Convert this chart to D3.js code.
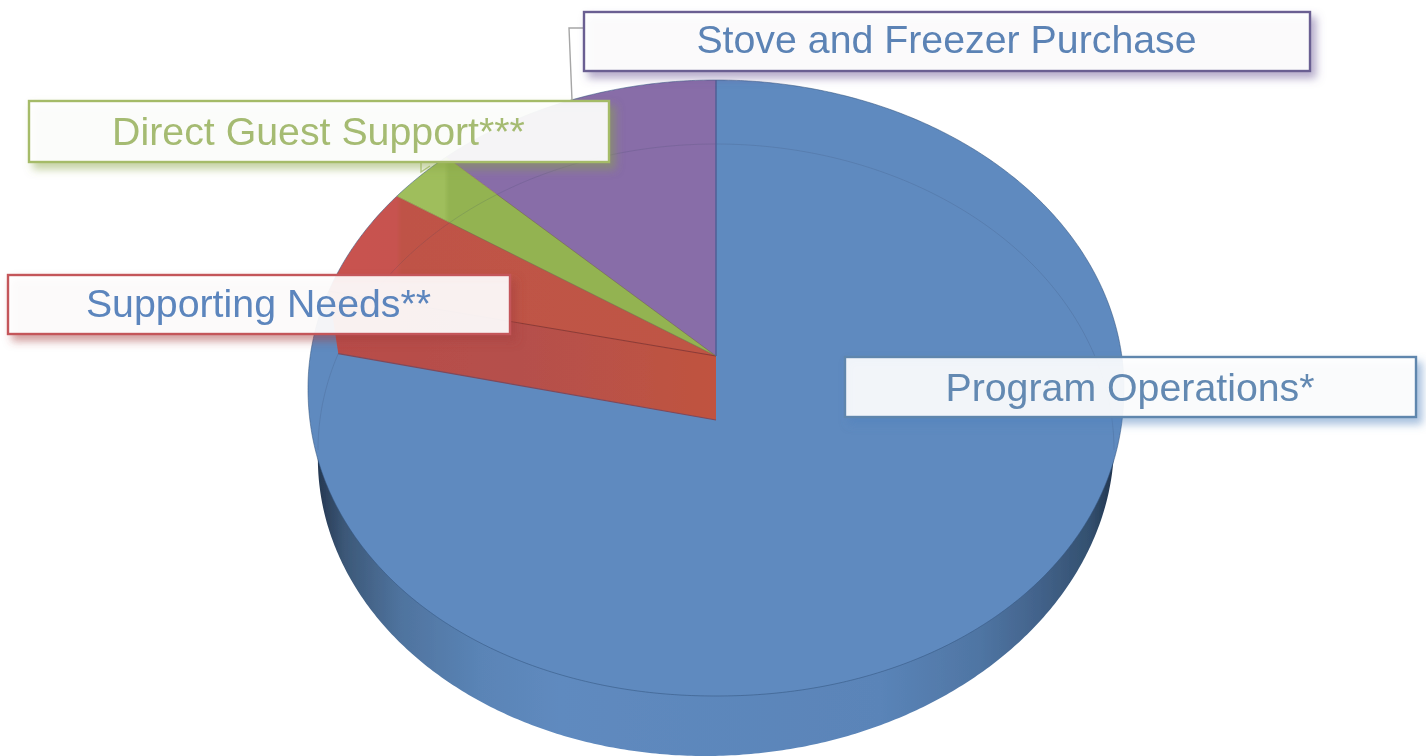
<!DOCTYPE html>
<html>
<head>
<meta charset="utf-8">
<script src="https://d3js.org/d3.v7.min.js"></script>
<style>
html, body { margin: 0; padding: 0; background: #fff; }
svg { display: block; }
text { font-family: "Liberation Sans", Arial, sans-serif; }
</style>
</head>
<body>
<svg id="chart" width="1426" height="756"></svg>
<script>
// values (share of the circle, %)
var categories = ["Program Operations*", "Supporting Needs**", "Direct Guest Support***", "Stove and Freezer Purchase"];
var shares = [80.1, 5.6, 2.8, 11.5];

var svg = d3.select("#chart");
var defs = svg.append("defs");

// top face and bottom rim of the disc, slightly in perspective
// power = squareness of the lower half, lean = sideways drift of the lower half
var topFace = { cx: 716, cy: 388, rx: 408, ry: 308, apexY: 356, power: 2.06, lean: 0 };
var baseFace = { cx: 716, cy: 450, rx: 398, ry: 306, apexY: 420, power: 2, lean: 0.035 };

var sliceColors = ["#5f8abf", "#bf5347", "#9aba56", "#886dA8"];
var slices = d3.pie().sort(null).value(d => d)(shares);

function rim(face, a) {
    var s = Math.sin(a), c = Math.cos(a);
    if (c >= 0) return [face.cx + face.rx * s, face.cy - face.ry * c];
    var e = 2 / face.power;
    var dx = Math.sign(s) * Math.pow(Math.abs(s), e) * face.rx;
    var dy = Math.pow(-c, e) * face.ry;
    return [face.cx + dx - face.lean * dy, face.cy + dy];
}
var line = d3.line();
function rimPts(face, a0, a1) {
    var n = Math.ceil(Math.abs(a1 - a0) / 0.01);
    return d3.range(n + 1).map(i => rim(face, a0 + (a1 - a0) * i / n));
}
function wedge(s) {
    return line([[topFace.cx, topFace.apexY]].concat(rimPts(topFace, s.startAngle, s.endAngle))) + "Z";
}

// gradients
function hGrad(id, stops) {
    var g = defs.append("linearGradient").attr("id", id)
        .attr("gradientUnits", "userSpaceOnUse")
        .attr("x1", 0).attr("x2", 1426).attr("y1", 0).attr("y2", 0);
    stops.forEach(s => g.append("stop").attr("offset", s[0] / 1426).attr("stop-color", s[1]));
}
hGrad("wallGrad", [[316, "#24364f"], [345, "#3c5878"], [400, "#4f739e"], [480, "#5a84b6"], [560, "#5f8abf"],
    [880, "#5a84b8"], [980, "#4f75a3"], [1040, "#42628a"], [1090, "#33506f"], [1118, "#1f3048"]]);
hGrad("redGrad", [[320, "#c95350"], [396, "#c75350"], [402, "#bf5346"], [716, "#bf5545"]]);
hGrad("greenGrad", [[395, "#9fbe5c"], [444, "#9fbe5c"], [449, "#93b351"], [716, "#93b351"]]);
hGrad("redWallGrad", [[330, "#b84c48"], [520, "#b5504c"], [716, "#c0533f"]]);

// soft coloured shadows behind the label boxes
function shadow(id, color) {
    defs.append("filter").attr("id", id)
        .attr("x", "-5%").attr("y", "-30%").attr("width", "110%").attr("height", "170%")
        .append("feDropShadow")
        .attr("dx", 5).attr("dy", 6).attr("stdDeviation", 4)
        .attr("flood-color", color).attr("flood-opacity", 0.55);
}
shadow("shBlue", "#4f81bd");
shadow("shRed", "#a5403c");
shadow("shGreen", "#8aa64a");
shadow("shPurple", "#6d5a96");

defs.append("filter").attr("id", "soft").append("feGaussianBlur").attr("stdDeviation", 0.6);

var pie = svg.append("g").attr("filter", "url(#soft)");

// side wall = bottom disc, top face sits over it
pie.append("path")
    .attr("d", line(rimPts(baseFace, 0, 2 * Math.PI)) + "Z")
    .attr("fill", "url(#wallGrad)");

var fills = [sliceColors[0], "url(#redGrad)", "url(#greenGrad)", sliceColors[3]];
pie.selectAll("path.slice").data(slices).enter().append("path")
    .attr("class", "slice")
    .attr("d", wedge)
    .attr("fill", (d, i) => fills[i]);

// thin dark rim where the top face meets the wall
pie.append("path")
    .attr("d", line(rimPts(topFace, 0, 2 * Math.PI)) + "Z")
    .attr("fill", "none").attr("stroke", "#34557f").attr("stroke-opacity", 0.55).attr("stroke-width", 1);

// far rim seen through the top face
pie.append("path")
    .attr("d", line(rimPts(baseFace, -Math.PI / 2, Math.PI / 2)))
    .attr("fill", "none").attr("stroke", "#33415f").attr("stroke-opacity", 0.16).attr("stroke-width", 1);

// cut face of the red slice, the open wall between red and blue
var cut = slices[0].endAngle;
pie.append("path")
    .attr("d", line([[topFace.cx, topFace.apexY], rim(topFace, cut), rim(baseFace, cut), [baseFace.cx, baseFace.apexY]]) + "Z")
    .attr("fill", "url(#redWallGrad)");
pie.append("path")
    .attr("d", line([[topFace.cx, topFace.apexY], rim(topFace, cut)]))
    .attr("fill", "none").attr("stroke", "#8f3a33").attr("stroke-width", 1.2);
pie.append("path")
    .attr("d", line([[baseFace.cx, baseFace.apexY], rim(baseFace, cut)]))
    .attr("fill", "none").attr("stroke", "#7e4a5c").attr("stroke-width", 1.2);

// edges between the upper slices
[slices[1].endAngle, slices[2].endAngle].forEach(a => {
    pie.append("path")
        .attr("d", line([[topFace.cx, topFace.apexY], rim(topFace, a)]))
        .attr("fill", "none").attr("stroke", "#7f6a3c").attr("stroke-opacity", 0.55).attr("stroke-width", 1);
});
pie.append("path")
    .attr("d", line([[topFace.cx, topFace.apexY], rim(topFace, 0)]))
    .attr("fill", "none").attr("stroke", "#4f5f96").attr("stroke-width", 1.5);

// leader lines
var labels = svg.append("g").attr("filter", "url(#soft)");
labels.append("path").attr("d", "M584,28H569L572,100")
    .attr("fill", "none").attr("stroke", "#a6a6a6").attr("stroke-width", 1.4);
labels.append("path").attr("d", "M421,162V172L430,166")
    .attr("fill", "none").attr("stroke", "#b9cc8a").attr("stroke-width", 1.4);

// label boxes: index into categories, box, baseline, colours
var boxes = [
    { i: 3, x: 584, y: 12, w: 726, h: 59, base: 53, stroke: "#6b5f92", text: "#5b83b5", sh: "shPurple" },
    { i: 2, x: 29, y: 101, w: 580, h: 61, base: 145, stroke: "#a5bb67", text: "#a5bb72", sh: "shGreen" },
    { i: 1, x: 8, y: 275, w: 502, h: 59, base: 317, stroke: "#c4565a", text: "#5b85bd", sh: "shRed" },
    { i: 0, x: 845, y: 357, w: 571, h: 60, base: 400.5, stroke: "#5f86ad", text: "#6389b2", sh: "shBlue" }
];

boxes.forEach(b => {
    labels.append("rect")
        .attr("x", b.x).attr("y", b.y).attr("width", b.w).attr("height", b.h)
        .attr("fill", "#fff").attr("fill-opacity", 0.9)
        .attr("stroke", b.stroke).attr("stroke-width", 2.4)
        .attr("filter", "url(#" + b.sh + ")");
    labels.append("text")
        .attr("x", b.x + b.w / 2 - 0.5).attr("y", b.base)
        .attr("text-anchor", "middle")
        .attr("font-size", 39.3)
        .attr("fill", b.text)
        .text(categories[b.i]);
});
</script>
</body>
</html>
